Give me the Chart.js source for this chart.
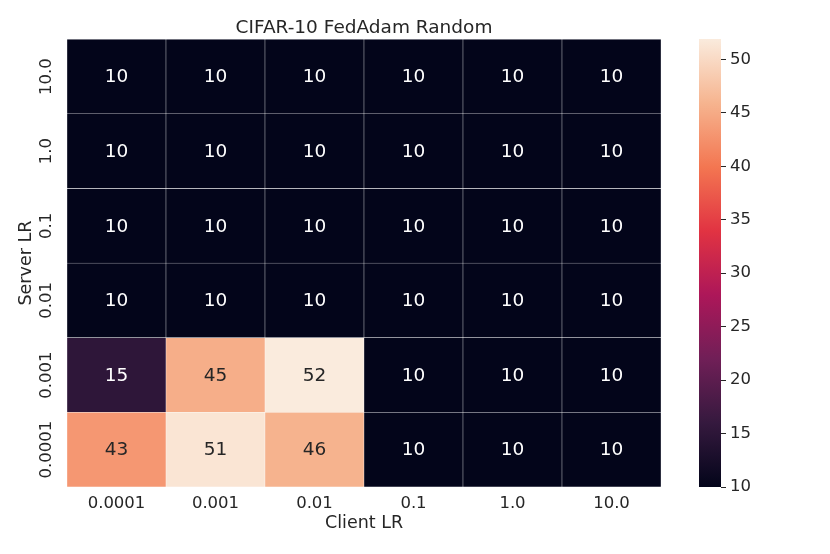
<!DOCTYPE html>
<html>
<head>
<meta charset="utf-8">
<script src="https://cdn.jsdelivr.net/npm/chart.js@4/dist/chart.umd.min.js"></script>
<style>
  body { margin: 0; background: #fff; }
  #wrap { position: relative; width: 830px; height: 554px; }
  #heat { position: absolute; left: 0; top: 0; width: 728px; height: 554px; }
  #cbar { position: absolute; left: 690px; top: 0; width: 140px; height: 554px; }
</style>
</head>
<body>
<div id="wrap">
  <div id="heat"><canvas id="heatChart"></canvas></div>
  <div id="cbar"><canvas id="cbarChart"></canvas></div>
</div>
<script>
// Axes
const clientLR = ['0.0001', '0.001', '0.01', '0.1', '1.0', '10.0'];
const serverLR = ['0.0001', '0.001', '0.01', '0.1', '1.0', '10.0']; // bas -> haut

// Précision (%) par server LR, une valeur par client LR
const acc_s0_0001 = [43.1, 51.2, 45.8, 10.0, 10.0, 10.0];
const acc_s0_001 = [15.2, 45.3, 51.9, 10.0, 10.0, 10.0];
const acc_s0_01 = [10.0, 10.0, 10.0, 10.0, 10.0, 10.0];
const acc_s0_1 = [10.0, 10.0, 10.0, 10.0, 10.0, 10.0];
const acc_s1_0 = [10.0, 10.0, 10.0, 10.0, 10.0, 10.0];
const acc_s10_0 = [10.0, 10.0, 10.0, 10.0, 10.0, 10.0];
const accRows = [acc_s0_0001, acc_s0_001, acc_s0_01, acc_s0_1, acc_s1_0, acc_s10_0];

// Barre de couleur
const cbTicks = [10, 15, 20, 25, 30, 35, 40, 45, 50];

const vmin = Math.min(...accRows.flat());
const vmax = Math.max(...accRows.flat());

// Colormap "rocket" (seaborn), points d'ancrage
const rocket = [
    [0.000, [3, 5, 26]],
    [0.143, [53, 25, 62]],
    [0.286, [112, 31, 87]],
    [0.429, [173, 23, 89]],
    [0.571, [225, 51, 66]],
    [0.714, [243, 118, 81]],
    [0.857, [246, 180, 143]],
    [1.000, [250, 235, 221]]
];

function rocketRgb(v) {
    const t = Math.max(0, Math.min(1, (v - vmin) / (vmax - vmin)));
    for (let i = 1; i < rocket.length; i++) {
        const [t1, c1] = rocket[i];
        const [t0, c0] = rocket[i - 1];
        if (t <= t1) {
            const f = (t - t0) / (t1 - t0);
            return c0.map((c, k) => Math.round(c + (c1[k] - c) * f));
        }
    }
    return rocket[rocket.length - 1][1];
}

function rocketColor(v) {
    return `rgb(${rocketRgb(v).join(',')})`;
}

// Texte clair ou foncé selon la luminance de la cellule
function textColor(v) {
    const lin = rocketRgb(v).map(c => {
        c /= 255;
        return c <= 0.03928 ? c / 12.92 : Math.pow((c + 0.055) / 1.055, 2.4);
    });
    const lum = 0.2126 * lin[0] + 0.7152 * lin[1] + 0.0722 * lin[2];
    return lum > 0.408 ? '#262626' : '#ffffff';
}

Chart.defaults.font.family = "'DejaVu Sans', sans-serif";
Chart.defaults.color = '#262626';

const cellLabels = {
    id: 'cellLabels',
    afterDatasetsDraw(chart) {
        const ctx = chart.ctx;
        ctx.save();
        ctx.font = "18.5px 'DejaVu Sans', sans-serif";
        ctx.textAlign = 'center';
        ctx.textBaseline = 'middle';
        chart.data.datasets.forEach((ds, i) => {
            chart.getDatasetMeta(i).data.forEach((bar, j) => {
                const v = ds.acc[j];
                ctx.fillStyle = textColor(v);
                ctx.fillText(Math.round(v), bar.x, (bar.y + bar.base) / 2 + 1);
            });
        });
        ctx.restore();
    }
};

// Carte de chaleur
new Chart(document.getElementById('heatChart'), {
    type: 'bar',
    data: {
        labels: clientLR,
        datasets: accRows.map((row, i) => ({
            label: serverLR[i],
            data: clientLR.map(() => 1),
            acc: row,
            backgroundColor: row.map(rocketColor),
            borderColor: 'rgba(255,255,255,0.6)',
            borderWidth: 0.5,
            borderSkipped: false,
            barPercentage: 1,
            categoryPercentage: 1
        }))
    },
    options: {
        animation: false,
        responsive: true,
        maintainAspectRatio: false,
        layout: { padding: 0 },
        plugins: {
            legend: { display: false },
            tooltip: { enabled: false },
            title: {
                display: true,
                text: 'CIFAR-10 FedAdam Random',
                font: { size: 18.5, weight: 'normal' },
                color: '#262626',
                padding: { top: 17, bottom: 0 }
            }
        },
        scales: {
            x: {
                stacked: true,
                grid: { display: false, drawTicks: false },
                border: { display: false },
                ticks: { font: { size: 16.5 }, color: '#262626', padding: 7, maxRotation: 0 },
                title: {
                    display: true,
                    text: 'Client LR',
                    font: { size: 17.5 },
                    color: '#262626',
                    padding: { top: 0, bottom: 20 }
                },
                afterFit: s => { s.height = 67; }
            },
            y: {
                type: 'linear',
                stacked: true,
                min: 0,
                max: serverLR.length,
                afterBuildTicks: s => { s.ticks = serverLR.map((_, i) => ({ value: i + 0.5 })); },
                grid: { display: false, drawTicks: false },
                border: { display: false },
                ticks: {
                    font: { size: 16.5 },
                    color: '#262626',
                    minRotation: 90,
                    maxRotation: 90,
                    crossAlign: 'center',
                    padding: -9,
                    callback: (v, i) => serverLR[i]
                },
                title: {
                    display: true,
                    text: 'Server LR',
                    font: { size: 17.5 },
                    color: '#262626',
                    padding: { top: 15.5, bottom: 0 }
                },
                afterFit: s => { s.width = 67; }
            },
            // espace vide à droite, pour centrer le titre sur la grille
            yRight: {
                type: 'linear',
                position: 'right',
                grid: { display: false, drawTicks: false },
                border: { display: false },
                ticks: { display: false },
                afterFit: s => { s.width = 67; }
            }
        }
    },
    plugins: [cellLabels]
});

// Barre de couleur
new Chart(document.getElementById('cbarChart'), {
    type: 'bar',
    data: {
        labels: [''],
        datasets: [{
            data: [[vmin, vmax]],
            backgroundColor: (c) => {
                const chart = c.chart;
                if (!chart.chartArea) return null;
                const y = chart.scales.y;
                const g = chart.ctx.createLinearGradient(0, y.getPixelForValue(vmin), 0, y.getPixelForValue(vmax));
                rocket.forEach(([t, rgb]) => g.addColorStop(t, `rgb(${rgb.join(',')})`));
                return g;
            },
            borderWidth: 0,
            barPercentage: 1,
            categoryPercentage: 1
        }]
    },
    options: {
        animation: false,
        responsive: true,
        maintainAspectRatio: false,
        layout: { padding: { left: 9, top: 39, bottom: 67, right: 0 } },
        plugins: {
            legend: { display: false },
            tooltip: { enabled: false }
        },
        scales: {
            x: { display: false },
            y: {
                position: 'right',
                min: vmin,
                max: vmax,
                afterBuildTicks: s => { s.ticks = cbTicks.map(v => ({ value: v })); },
                grid: { drawOnChartArea: false, drawTicks: true, tickLength: 5, color: '#262626', lineWidth: 1 },
                border: { display: false },
                ticks: { font: { size: 16.5 }, color: '#262626', padding: 4 },
                afterFit: s => { s.width = 109; }
            }
        }
    }
});
</script>
</body>
</html>
